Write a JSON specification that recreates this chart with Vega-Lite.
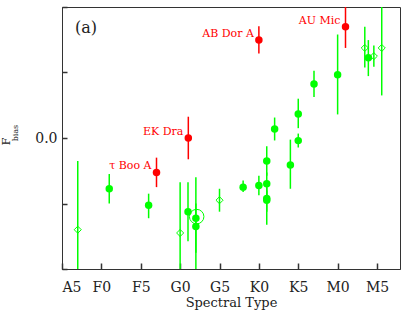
{
  "$schema": "https://vega.github.io/schema/vega-lite/v6.json",
  "width": 338,
  "height": 262,
  "autosize": {"type": "none"},
  "padding": {"left": 62, "top": 7, "right": 7, "bottom": 44},
  "config": {
    "view": {"stroke": "#333", "strokeWidth": 1},
    "axis": {
      "grid": false,
      "labelColor": "#222",
      "titleColor": "#222",
      "labelFont": "DejaVu Serif",
      "titleFont": "DejaVu Serif",
      "titleFontWeight": "normal"
    }
  },
  "data": {
    "values": [
      {"x": 2.0, "f": -0.56, "lo": -0.85, "hi": -0.14, "kind": "diamond", "name": ""},
      {"x": 15.0, "f": -0.58, "lo": -0.85, "hi": -0.27, "kind": "diamond", "name": ""},
      {"x": 20.0, "f": -0.38, "lo": -0.45, "hi": -0.31, "kind": "diamond", "name": ""},
      {"x": 38.45, "f": 0.55, "lo": 0.43, "hi": 0.68, "kind": "diamond", "name": ""},
      {"x": 39.6, "f": 0.50, "lo": 0.435, "hi": 0.565, "kind": "diamond", "name": ""},
      {"x": 40.6, "f": 0.55, "lo": 0.26, "hi": 0.85, "kind": "diamond", "name": ""},
      {"x": 6.0, "f": -0.31, "lo": -0.40, "hi": -0.22, "kind": "star", "name": ""},
      {"x": 11.0, "f": -0.41, "lo": -0.49, "hi": -0.34, "kind": "star", "name": ""},
      {"x": 16.0, "f": -0.45, "lo": -0.63, "hi": -0.27, "kind": "star", "name": ""},
      {"x": 17.0, "f": -0.49, "lo": -0.85, "hi": -0.24, "kind": "star", "name": ""},
      {"x": 17.0, "f": -0.54, "lo": -0.70, "hi": -0.40, "kind": "star", "name": ""},
      {"x": 23.0, "f": -0.30, "lo": -0.33, "hi": -0.26, "kind": "star", "name": ""},
      {"x": 25.0, "f": -0.29, "lo": -0.35, "hi": -0.23, "kind": "star", "name": ""},
      {"x": 26.0, "f": -0.14, "lo": -0.23, "hi": -0.05, "kind": "star", "name": ""},
      {"x": 26.0, "f": -0.28, "lo": -0.35, "hi": -0.21, "kind": "star", "name": ""},
      {"x": 26.0, "f": -0.37, "lo": -0.53, "hi": -0.30, "kind": "star", "name": ""},
      {"x": 26.0, "f": -0.38, "lo": -0.45, "hi": -0.32, "kind": "star", "name": ""},
      {"x": 27.0, "f": 0.055, "lo": -0.015, "hi": 0.125, "kind": "star", "name": ""},
      {"x": 29.0, "f": -0.165, "lo": -0.31, "hi": -0.01, "kind": "star", "name": ""},
      {"x": 30.0, "f": 0.146, "lo": 0.06, "hi": 0.24, "kind": "star", "name": ""},
      {"x": 30.0, "f": -0.016, "lo": -0.058, "hi": 0.027, "kind": "star", "name": ""},
      {"x": 32.0, "f": 0.33, "lo": 0.25, "hi": 0.41, "kind": "star", "name": ""},
      {"x": 35.0, "f": 0.386, "lo": 0.144, "hi": 0.632, "kind": "star", "name": ""},
      {"x": 38.9, "f": 0.49, "lo": 0.378, "hi": 0.598, "kind": "star", "name": ""},
      {"x": 17.1, "f": -0.48, "lo": -0.48, "hi": -0.48, "kind": "sun", "name": ""},
      {"x": 12.0, "f": -0.21, "lo": -0.30, "hi": -0.12, "kind": "active", "name": "τ Boo A"},
      {"x": 16.04, "f": 0.0, "lo": -0.13, "hi": 0.13, "kind": "active", "name": "EK Dra"},
      {"x": 25.0, "f": 0.598, "lo": 0.516, "hi": 0.683, "kind": "active", "name": "AB Dor A"},
      {"x": 36.0, "f": 0.68, "lo": 0.55, "hi": 0.85, "kind": "active", "name": "AU Mic"}
    ]
  },
  "layer": [
    {
      "transform": [{"filter": "datum.kind != 'sun'"}],
      "mark": {"type": "rule", "clip": true, "strokeWidth": 1.5},
      "encoding": {
        "x": {
          "field": "x", "type": "quantitative",
          "scale": {"domain": [0, 42.92], "nice": false, "zero": false},
          "axis": {
            "orient": "bottom",
            "values": [0, 5, 10, 15, 20, 25, 30, 35, 40],
            "labelExpr": "['A5','F0','F5','G0','G5','K0','K5','M0','M5'][round(datum.value/5)]",
            "tickSize": -6,
            "tickColor": "#333",
            "tickWidth": 1.5,
            "domainColor": "#333",
            "labelPadding": 17,
            "labelFontSize": 14,
            "title": "Spectral Type",
            "titleFontSize": 13,
            "titlePadding": 2
          }
        },
        "y": {
          "field": "lo", "type": "quantitative",
          "scale": {"domain": [-0.8, 0.8], "nice": false, "zero": false},
          "axis": {
            "orient": "left",
            "values": [-0.8, -0.7, -0.6, -0.5, -0.4, -0.3, -0.2, -0.1, 0, 0.1, 0.2, 0.3, 0.4, 0.5, 0.6, 0.7, 0.8],
            "labelExpr": "abs(datum.value*2 - round(datum.value*2)) < 0.01 ? format(datum.value, '.1f') : ''",
            "tickSize": -5,
            "tickColor": "#333",
            "tickWidth": 1.5,
            "domainColor": "#333",
            "labelPadding": 10,
            "labelFontSize": 14,
            "title": "F",
            "titleFontSize": 11,
            "titleAngle": 270,
            "titleX": -55.5,
            "titleY": 134,
            "titleAlign": "center",
            "titleBaseline": "middle"
          }
        },
        "y2": {"field": "hi"},
        "color": {
          "field": "kind", "type": "nominal",
          "scale": {"domain": ["star", "diamond", "sun", "active"], "range": ["#00ff00", "#00ff00", "#00ff00", "#ff0000"]},
          "legend": null
        }
      }
    },
    {
      "transform": [{"filter": "datum.kind == 'star' || datum.kind == 'active'"}],
      "mark": {"type": "point", "shape": "circle", "filled": true, "size": 56, "opacity": 1},
      "encoding": {
        "x": {"field": "x", "type": "quantitative"},
        "y": {"field": "f", "type": "quantitative"},
        "color": {"field": "kind", "type": "nominal", "legend": null}
      }
    },
    {
      "transform": [{"filter": "datum.kind == 'diamond'"}],
      "mark": {"type": "point", "shape": "diamond", "filled": false, "size": 50, "strokeWidth": 1, "opacity": 1},
      "encoding": {
        "x": {"field": "x", "type": "quantitative"},
        "y": {"field": "f", "type": "quantitative"},
        "color": {"field": "kind", "type": "nominal", "legend": null}
      }
    },
    {
      "transform": [{"filter": "datum.kind == 'sun'"}],
      "mark": {"type": "point", "shape": "circle", "filled": false, "size": 210, "strokeWidth": 1, "opacity": 1},
      "encoding": {
        "x": {"field": "x", "type": "quantitative"},
        "y": {"field": "f", "type": "quantitative"},
        "color": {"field": "kind", "type": "nominal", "legend": null}
      }
    },
    {
      "transform": [{"filter": "datum.name != ''"}],
      "mark": {"type": "text", "align": "right", "baseline": "middle", "dx": -5, "dy": -6, "font": "DejaVu Serif", "fontSize": 11, "color": "#ff0000"},
      "encoding": {
        "x": {"field": "x", "type": "quantitative"},
        "y": {"field": "f", "type": "quantitative"},
        "text": {"field": "name"}
      }
    },
    {
      "data": {"values": [{"text": "(a)"}]},
      "mark": {"type": "text", "align": "center", "baseline": "middle", "font": "DejaVu Serif", "fontSize": 16, "color": "#222"},
      "encoding": {
        "x": {"datum": 3.05, "type": "quantitative"},
        "y": {"datum": 0.67, "type": "quantitative"},
        "text": {"field": "text"}
      }
    },
    {
      "data": {"values": [{"text": "bias"}]},
      "mark": {"type": "text", "align": "center", "baseline": "middle", "angle": 270, "font": "DejaVu Serif", "fontSize": 8, "color": "#222"},
      "encoding": {
        "x": {"datum": -5.9, "type": "quantitative"},
        "y": {"datum": 0.03, "type": "quantitative"},
        "text": {"field": "text"}
      }
    }
  ]
}
